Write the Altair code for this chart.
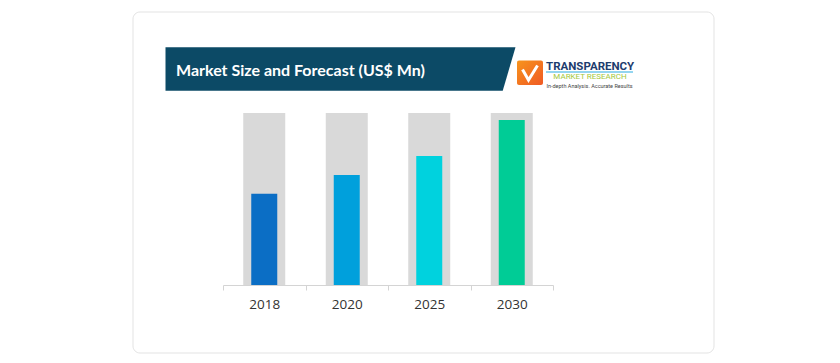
import altair as alt
import pandas as pd

# ---- data ----
years = ["2018", "2020", "2025", "2030"]
values = [53, 64, 75, 96]
full_values = [100, 100, 100, 100]
bar_colors = ["#0b6ec5", "#00a0dc", "#00d2de", "#00cc96"]

title_text = "Market Size and Forecast (US$ Mn)"
logo_main = "TRANSPARENCY"
logo_sub = "MARKET RESEARCH"
logo_tag = "In-depth Analysis. Accurate Results"

df = pd.DataFrame({"year": years, "value": values, "full": full_values})
one = pd.DataFrame({"k": [0]})

W, H = 330, 172

xenc = alt.X(
    "year:N",
    sort=years,
    scale=alt.Scale(paddingInner=0, paddingOuter=0),
    axis=alt.Axis(
        title=None,
        labelAngle=0,
        labelFont="Open Sans",
        labelFontSize=13.5,
        labelColor="#333333",
        labelPadding=7,
        domainColor="#d4d4d4",
        tickColor="#d4d4d4",
        tickSize=5,
        tickBand="extent",
        zindex=1,
    ),
)
yscale = alt.Scale(domain=[0, 100], nice=False, zero=True)

# card background
card = alt.Chart(one).mark_rect(
    fill="white", stroke="#e3e3e3", strokeWidth=1, cornerRadius=7
).encode(x=alt.value(-90), x2=alt.value(491), y=alt.value(-101), y2=alt.value(240))

# title banner (trapezoid)
banner = alt.Chart(one).mark_point(
    shape="M-1,-0.124 L1,-0.124 L0.927,0.124 L-1,0.124 Z",
    size=175 * 175 * 4,
    filled=True,
    fill="#0c4a66",
    opacity=1,
    strokeWidth=0,
).encode(x=alt.value(117.5), y=alt.value(-44))

title = alt.Chart(one).mark_text(
    text=title_text,
    font="Lato",
    fontWeight="bold",
    fontSize=16,
    color="white",
    align="left",
    baseline="alphabetic",
).encode(x=alt.value(-47), y=alt.value(-37))

# logo
logo_box = alt.Chart(one).mark_rect(
    cornerRadius=2,
    color=alt.Gradient(
        gradient="linear",
        stops=[alt.GradientStop(color="#f7941d", offset=0),
               alt.GradientStop(color="#f05a24", offset=1)],
        x1=0, x2=1, y1=0, y2=1,
    ),
).encode(x=alt.value(294), x2=alt.value(320), y=alt.value(-52.5), y2=alt.value(-28))

logo_check = alt.Chart(one).mark_point(
    shape="M-0.75,-0.35 L-0.15,0.7 L0.75,-0.75",
    size=400,
    filled=False,
    stroke="white",
    strokeWidth=3,
    opacity=1,
).encode(x=alt.value(307), y=alt.value(-40))

logo_t1 = alt.Chart(one).mark_text(
    text=logo_main, font="Roboto", fontWeight="bold", fontSize=11.5,
    color="#1d3c6e", align="left", baseline="alphabetic",
).encode(x=alt.value(323), y=alt.value(-43))

logo_line = alt.Chart(one).mark_rule(color="#29abe2", strokeWidth=1.2).encode(
    x=alt.value(323), x2=alt.value(410), y=alt.value(-41)
)

logo_t2 = alt.Chart(one).mark_text(
    text=logo_sub, font="Roboto", fontSize=8,
    color="#a3c83a", align="center", baseline="alphabetic",
).encode(x=alt.value(367), y=alt.value(-34))

logo_t3 = alt.Chart(one).mark_text(
    text=logo_tag, font="Roboto", fontSize=5.5,
    color="#444444", align="center", baseline="alphabetic",
).encode(x=alt.value(366.5), y=alt.value(-25.5))

# bars
bg_bars = alt.Chart(df).mark_bar(size=42, color="#d9d9d9").encode(
    x=xenc,
    y=alt.Y("full:Q", scale=yscale, axis=None),
)
fg_bars = alt.Chart(df).mark_bar(size=26).encode(
    x=xenc,
    y=alt.Y("value:Q", scale=yscale, axis=None),
    color=alt.Color("year:N", scale=alt.Scale(domain=years, range=bar_colors), legend=None),
)

chart = alt.layer(
    card, banner, title, logo_box, logo_check, logo_t1, logo_line, logo_t2, logo_t3,
    bg_bars, fg_bars,
).properties(
    width=W,
    height=H,
    padding={"left": 215, "top": 105, "right": 279, "bottom": 70},
    autosize=alt.AutoSizeParams(type="none"),
    background="white",
).configure_view(stroke=None)

chart.save("out.html", embed_options={"renderer": "svg", "actions": False})
